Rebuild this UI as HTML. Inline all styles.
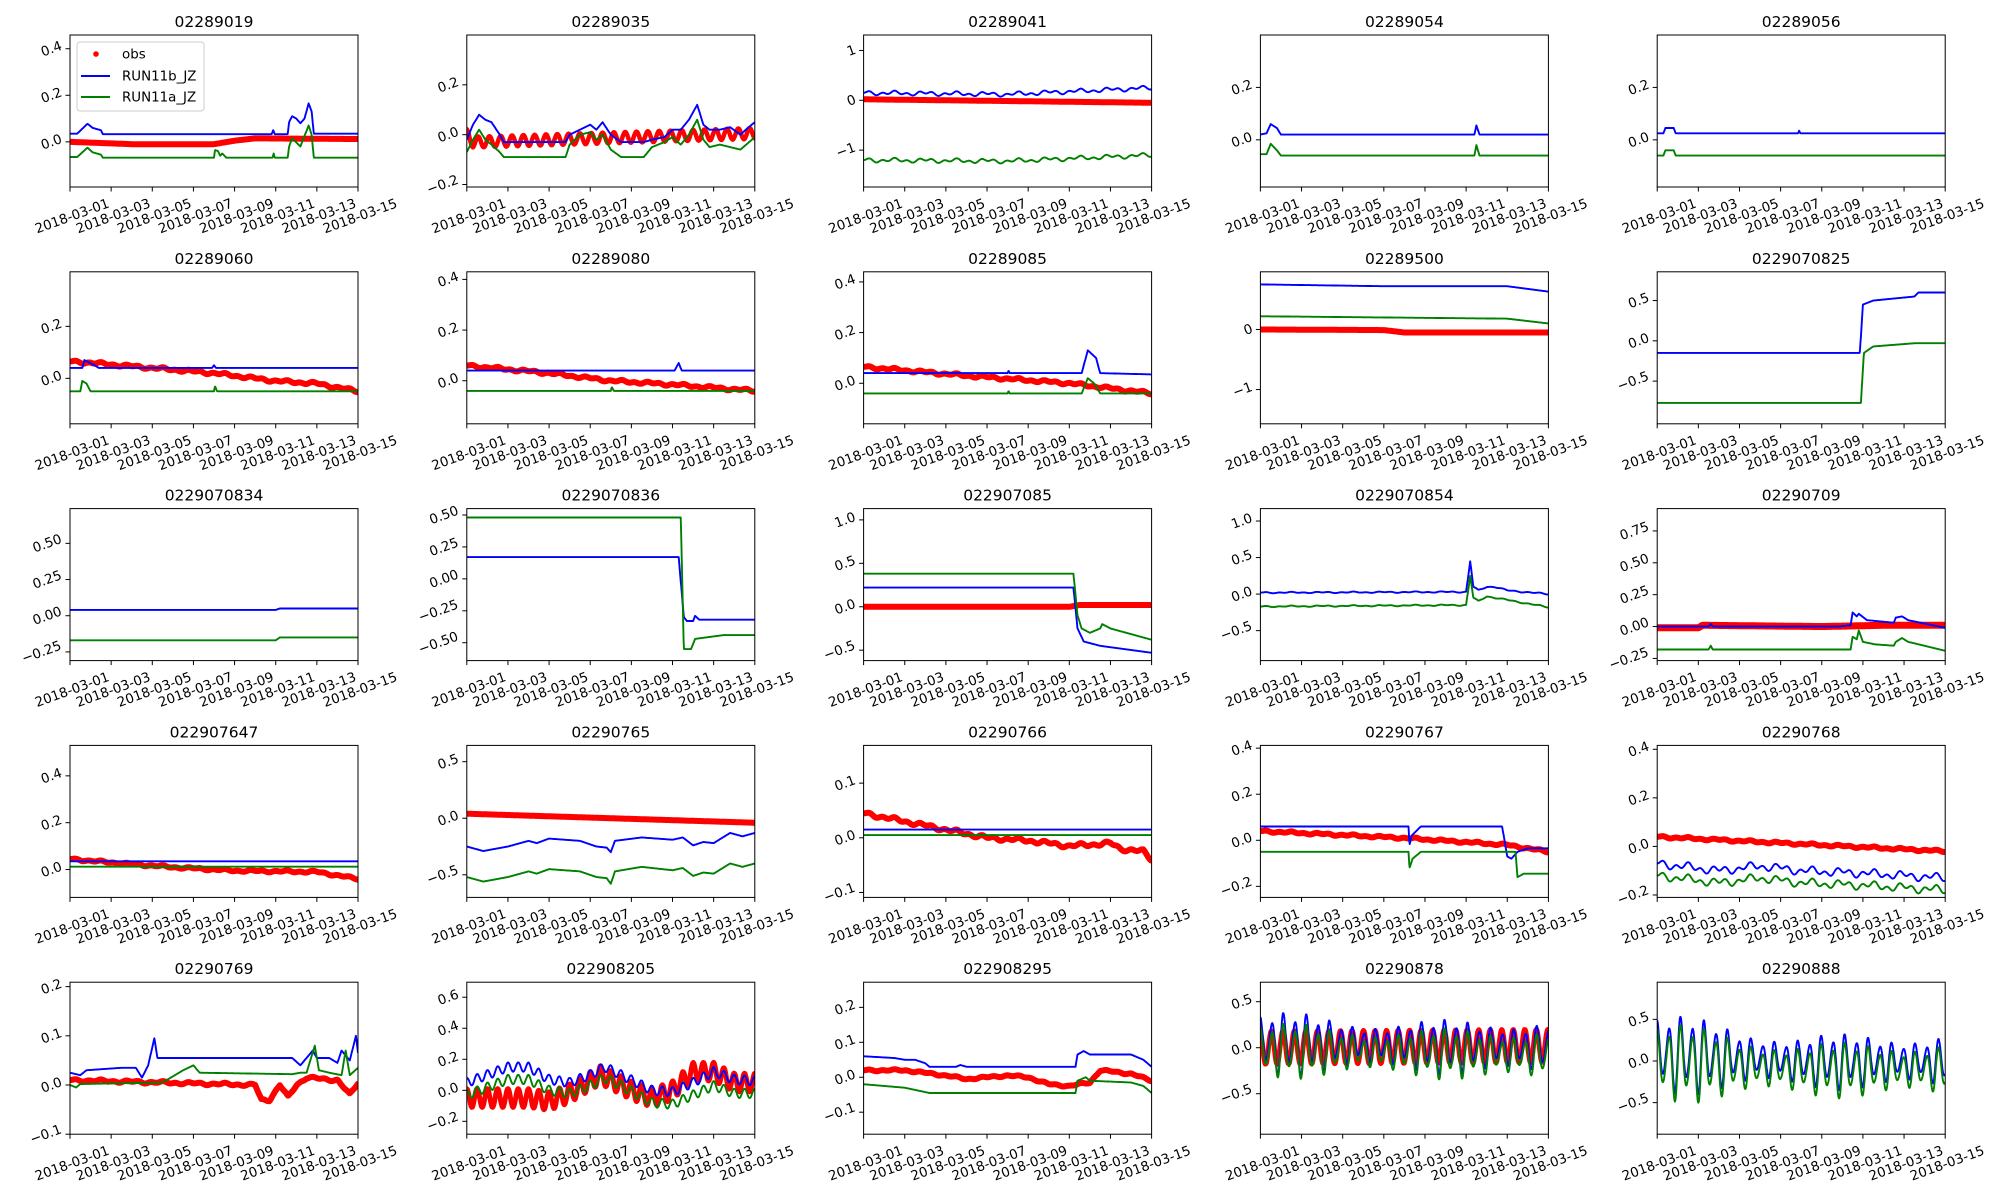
<!DOCTYPE html>
<html><head><meta charset="utf-8">
<style>html,body{margin:0;padding:0;background:#fff;}svg{display:block;}</style>
</head><body>
<svg id="s" xmlns="http://www.w3.org/2000/svg" width="2000" height="1200" viewBox="0 0 2000 1200" font-family="DejaVu Sans, Liberation Sans, sans-serif"></svg>
<script>
const S=document.getElementById('s');
let out='';
const W=288,H=152;
function lerp(pts,t){if(t<=pts[0][0])return pts[0][1];for(let i=1;i<pts.length;i++){if(t<=pts[i][0]){const a=pts[i-1],b=pts[i];return b[0]==a[0]?b[1]:a[1]+(b[1]-a[1])*(t-a[0])/(b[0]-a[0]);}}return pts[pts.length-1][1];}
function flat(v){return [[0,v],[14,v]];}
function ser(base,opt){opt=opt||{};return function(t){let v=lerp(base,t);if(opt.amp){const a=typeof opt.amp=='number'?opt.amp:lerp(opt.amp,t);v+=a*Math.cos(2*Math.PI*t/opt.per+(opt.ph||0))*(opt.mix?(0.75+0.25*Math.cos(2*Math.PI*t/(opt.per*2)+1))*(0.8+0.2*Math.sin(t*0.9)):1);}if(opt.wig)v+=opt.wig*Math.sin(t*7.3)*Math.sin(t*3.1);return v;};}
const P=[
{t:'02289019',y0:-0.194,y1:0.459,tk:[0,0.2,0.4],f:1,legend:1,
 r:ser([[0,0],[3,-0.01],[7,-0.01],[8,0.005],[9,0.015],[14,0.012]]),
 b:ser([[0,.035],[0.35,.035],[0.85,.078],[1.1,.06],[1.5,.05],[1.6,.033],[9.8,.033],[9.88,.05],[9.95,.033],[10.58,.033],[10.65,.085],[10.8,.11],[11.0,.1],[11.2,.08],[11.4,.1],[11.6,.165],[11.75,.13],[11.85,.035],[14,.035]]),
 g:ser([[0,-.065],[0.35,-.065],[0.85,-.025],[1.1,-.045],[1.5,-.055],[1.6,-.068],[7.0,-.068],[7.05,-.035],[7.2,-.04],[7.3,-.06],[7.4,-.05],[7.6,-.068],[9.85,-.068],[9.9,-.05],[9.95,-.068],[10.58,-.068],[10.65,-.02],[10.8,.015],[11.2,-.02],[11.6,.07],[11.75,.03],[11.85,-.068],[14,-.068]])},
{t:'02289035',y0:-0.21,y1:0.40,tk:[-0.2,0,0.2],f:1,
 r:ser([[0,0],[0.3,-0.03],[14,0.005]],{amp:0.022,per:0.55}),rw:4.5,
 b:ser([[0,-0.02],[0.3,0.04],[0.6,0.08],[0.9,0.06],[1.2,0.05],[1.6,0.0],[1.8,-0.03],[4.8,-0.03],[5.0,0.0],[5.5,0.02],[6.0,0.04],[6.3,0.02],[6.6,0.05],[7.0,0.0],[7.5,-0.03],[8.6,-0.03],[9.0,-0.02],[9.6,-0.01],[10.0,0.02],[10.4,0.02],[10.8,0.06],[11.2,0.12],[11.5,0.04],[11.8,0.02],[12.3,0.02],[12.8,0.03],[13.3,0.0],[13.7,0.03],[14,0.05]]),
 g:ser([[0,-0.07],[0.3,-0.02],[0.6,0.02],[0.9,-0.02],[1.2,-0.04],[1.6,-0.07],[1.8,-0.09],[4.8,-0.09],[5.0,-0.04],[5.5,0.0],[6.0,0.01],[6.3,-0.02],[6.6,0.0],[7.0,-0.06],[7.5,-0.09],[8.6,-0.09],[9.0,-0.05],[9.6,-0.03],[10.0,-0.01],[10.4,-0.04],[10.8,0.0],[11.2,0.06],[11.5,-0.02],[11.8,-0.05],[12.3,-0.04],[12.8,-0.05],[13.3,-0.06],[14,-0.01]])},
{t:'02289041',y0:-1.74,y1:1.31,tk:[-1,0,1],f:0,
 r:ser([[0,0.02],[14,-0.05]]),b:ser([[0,0.15],[7,0.12],[14,0.25]],{wig:0.05}),g:ser([[0,-1.2],[7,-1.22],[14,-1.1]],{wig:0.05})},
{t:'02289054',y0:-0.18,y1:0.40,tk:[0,0.2],f:1,
 b:ser([[0,.02],[0.3,.025],[0.5,.06],[0.8,.045],[1.0,.02],[10.4,.02],[10.5,.055],[10.65,.02],[14,.02]]),
 g:ser([[0,-.055],[0.3,-.055],[0.5,-.015],[0.8,-.04],[1.0,-.06],[10.4,-.06],[10.5,-.02],[10.65,-.06],[14,-.06]])},
{t:'02289056',y0:-0.18,y1:0.40,tk:[0,0.2],f:1,
 b:ser([[0,.025],[0.3,.025],[0.4,.045],[0.8,.045],[0.9,.025],[6.85,.025],[6.9,.035],[6.95,.025],[14,.025]]),
 g:ser([[0,-.06],[0.3,-.06],[0.4,-.04],[0.8,-.04],[0.9,-.06],[14,-.06]])},
{t:'02289060',y0:-0.175,y1:0.41,tk:[0,0.2],f:1,
 r:ser([[0,.065],[1,.06],[4,.04],[7,.02],[10,-.01],[12,-.02],[14,-.05]],{wig:0.006}),
 b:ser([[0,.04],[0.6,.04],[0.7,.07],[1.2,.05],[1.4,.04],[6.9,.04],[7,.05],[7.1,.04],[14,.04]]),
 g:ser([[0,-.05],[0.5,-.05],[0.6,-.01],[0.8,-.02],[1.0,-.05],[7.0,-.05],[7.05,-.03],[7.15,-.05],[14,-.05]])},
{t:'02289080',y0:-0.17,y1:0.43,tk:[0,0.2,0.4],f:1,
 r:ser([[0,.06],[4,.03],[7,0],[10,-.015],[14,-.04]],{wig:0.006}),
 b:ser([[0,.04],[10.1,.04],[10.3,.07],[10.45,.04],[14,.04]]),
 g:ser([[0,-.04],[7,-.04],[7.05,-.025],[7.15,-.04],[14,-.04]])},
{t:'02289085',y0:-0.16,y1:0.44,tk:[0,0.2,0.4],f:1,
 r:ser([[0,.065],[5,.03],[10,0],[14,-.04]],{wig:0.006}),
 b:ser([[0,.04],[7,.04],[7.05,.05],[7.1,.04],[10.6,.04],[10.9,.13],[11.3,.1],[11.5,.04],[14,.035]]),
 g:ser([[0,-.04],[7,-.04],[7.05,-.03],[7.1,-.04],[10.6,-.04],[10.9,.02],[11.2,.0],[11.5,-.04],[14,-.04]])},
{t:'02289500',y0:-1.57,y1:0.96,tk:[-1,0],f:0,
 r:ser([[0,0],[6,-0.01],[7,-0.05],[14,-0.05]]),b:ser([[0,.75],[6,.72],[12,.72],[14,.63]]),g:ser([[0,.22],[6,.2],[12,.18],[14,.1]])},
{t:'0229070825',y0:-1.03,y1:0.857,tk:[-0.5,0,0.5],f:1,
 b:ser([[0,-.15],[9.85,-.15],[10.0,0.45],[10.5,0.5],[12.5,.55],[12.7,.6],[14,.6]]),
 g:ser([[0,-.77],[9.9,-.77],[10.05,-0.15],[10.5,-0.07],[12.5,-.03],[14,-.03]])},
{t:'0229070834',y0:-0.31,y1:0.74,tk:[-0.25,0,0.25,0.5],f:2,
 b:ser([[0,0.04],[10,0.04],[10.2,0.05],[14,0.05]]),g:ser([[0,-.17],[10,-.17],[10.2,-.15],[14,-.15]])},
{t:'0229070836',y0:-0.64,y1:0.55,tk:[-0.5,-0.25,0,0.25,0.5],f:2,
 g:ser([[0,0.48],[10.4,0.48],[10.55,-0.55],[10.9,-0.55],[11.1,-.47],[12.5,-.44],[14,-.44]]),
 b:ser([[0,.17],[10.3,.17],[10.55,-.3],[10.7,-.33],[11,-.33],[11.1,-.29],[11.3,-.32],[14,-.32]])},
{t:'022907085',y0:-0.62,y1:1.13,tk:[-0.5,0,0.5,1.0],f:1,
 r:ser([[0,0],[10,0],[10.5,0.02],[14,0.02]]),
 g:ser([[0,.38],[10.2,.38],[10.4,-0.1],[10.6,-0.25],[11,-0.3],[11.5,-0.25],[11.6,-0.2],[12,-0.25],[14,-0.38]]),
 b:ser([[0,.22],[10.2,.22],[10.4,-0.25],[10.7,-0.4],[11.5,-0.45],[14,-0.53]])},
{t:'0229070854',y0:-0.91,y1:1.17,tk:[-0.5,0,0.5,1.0],f:1,
 b:ser([[0,0.02],[10,0.03],[10.2,0.45],[10.35,0.1],[10.6,0.05],[11,0.1],[11.4,0.1],[12,0.05],[14,0.0]],{wig:0.01}),
 g:ser([[0,-0.17],[10,-0.15],[10.2,0.25],[10.35,-0.05],[10.6,-0.1],[11,-0.03],[11.4,-0.05],[14,-0.18]],{wig:0.01})},
{t:'02290709',y0:-0.267,y1:0.925,tk:[-0.25,0,0.25,0.5,0.75],f:2,
 r:ser([[0,-0.01],[2,-0.01],[2.2,0.01],[8,0.0],[11,0.01],[14,0.01]]),rw:7,
 b:ser([[0,0],[2.5,0],[2.6,0.02],[2.7,0],[8.8,0.0],[9.4,0.01],[9.5,0.11],[9.7,0.08],[9.8,0.1],[10.2,0.05],[11.5,0.03],[11.6,0.07],[11.9,0.08],[12.2,0.05],[14,-0.01]]),
 g:ser([[0,-0.18],[2.5,-0.18],[2.6,-0.15],[2.7,-0.18],[9.4,-0.18],[9.5,-0.08],[9.7,-0.1],[9.8,-0.03],[10,-0.12],[10.6,-0.14],[11.5,-0.15],[11.6,-0.12],[11.9,-0.09],[12.2,-0.12],[14,-0.19]])},
{t:'022907647',y0:-0.119,y1:0.53,tk:[0,0.2,0.4],f:1,
 r:ser([[0,0.045],[2,0.03],[5,0.01],[8,-0.005],[12,-0.01],[14,-0.04]],{wig:0.005}),b:ser(flat(0.035)),g:ser(flat(0.012))},
{t:'02290765',y0:-0.70,y1:0.644,tk:[-0.5,0,0.5],f:1,
 r:ser([[0,0.04],[14,-0.04]]),
 b:ser([[0,-0.25],[0.8,-0.29],[2,-0.25],[3,-0.2],[3.4,-0.22],[4,-0.18],[5.5,-0.2],[6.3,-0.25],[6.8,-0.26],[7.0,-0.3],[7.2,-0.2],[8.5,-0.17],[10,-0.19],[10.5,-0.17],[11,-0.24],[11.5,-0.21],[12,-0.22],[12.8,-0.13],[13.4,-0.16],[14,-0.13]]),
 g:ser([[0,-0.52],[0.8,-0.56],[2,-0.52],[3,-0.47],[3.4,-0.49],[4,-0.45],[5.5,-0.47],[6.3,-0.52],[6.8,-0.53],[7.0,-0.58],[7.2,-0.47],[8.5,-0.43],[10,-0.46],[10.5,-0.44],[11,-0.51],[11.5,-0.48],[12,-0.49],[12.8,-0.4],[13.4,-0.43],[14,-0.4]])},
{t:'02290766',y0:-0.109,y1:0.169,tk:[-0.1,0,0.1],f:1,
 r:ser([[0,0.045],[2,0.03],[4,0.015],[6,0.0],[8,-0.005],[10,-0.015],[12,-0.01],[12.5,-0.02],[13.6,-0.025],[14,-0.04]],{wig:0.004}),b:ser(flat(0.015)),g:ser(flat(0.005))},
{t:'02290767',y0:-0.248,y1:0.412,tk:[-0.2,0,0.2,0.4],f:1,
 r:ser([[0,0.04],[7,0.01],[12,-0.02],[14,-0.05]],{wig:0.005}),
 b:ser([[0,0.06],[7.2,0.06],[7.25,-0.02],[7.35,0.02],[7.8,0.06],[11.75,0.06],[12.0,-0.07],[12.2,-0.08],[12.5,-0.05],[13,-0.035],[14,-0.035]]),
 g:ser([[0,-0.05],[7.2,-0.05],[7.25,-0.12],[7.4,-0.08],[7.8,-0.05],[12.4,-0.05],[12.5,-0.16],[12.8,-0.145],[14,-0.145]])},
{t:'02290768',y0:-0.21,y1:0.416,tk:[-0.2,0,0.2,0.4],f:1,
 r:ser([[0,0.04],[14,-0.02]],{wig:0.005}),
 b:ser([[0,-0.07],[3,-0.1],[5,-0.08],[7,-0.1],[10,-0.11],[12,-0.12],[14,-0.13]],{wig:0.02}),
 g:ser([[0,-0.12],[3,-0.15],[5,-0.13],[7,-0.15],[10,-0.16],[12,-0.17],[14,-0.18]],{wig:0.02})},
{t:'02290769',y0:-0.1,y1:0.209,tk:[-0.1,0,0.1,0.2],f:1,
 r:ser([[0,0.01],[9,0],[9.3,-0.03],[9.7,-0.03],[10.2,0.0],[10.6,-0.025],[11,-0.0],[11.5,0.015],[13,0.01],[13.6,-0.02],[14,0.005]],{wig:0.003}),
 b:ser([[0,.025],[0.5,.02],[0.8,.03],[2.5,.035],[3.2,.035],[3.5,.015],[3.8,.04],[4.1,.095],[4.25,.055],[4.5,.055],[10.8,.055],[11.2,.04],[11.8,.07],[12.0,.055],[12.6,.055],[13.0,.045],[13.2,.07],[13.5,.055],[13.6,.05],[13.9,.1],[14,.065]]),
 g:ser([[0,0],[0.3,-0.005],[0.5,0.002],[4.5,0.005],[5.5,0.03],[6,0.04],[6.3,0.025],[10.8,0.022],[11.2,0.025],[11.5,0.025],[11.9,0.08],[12.1,0.03],[12.6,0.025],[13.2,0.02],[13.4,0.07],[13.6,0.02],[14,0.035]])},
{t:'022908205',y0:-0.283,y1:0.697,tk:[-0.2,0,0.2,0.4,0.6],f:1,
 r:ser([[0,-0.05],[3,-0.05],[4,-0.07],[5,-0.02],[6.5,0.1],[8,0.0],[9,-0.05],[10,0.0],[11,0.12],[12,0.12],[13,0.05],[14,0.05]],{amp:0.06,per:0.5}),rw:5,
 b:ser([[0,0.05],[2,0.15],[3,0.15],[4,0.07],[5,0.05],[6,0.1],[6.7,0.15],[7.5,0.1],[9,0.0],[10,-0.01],[11,0.05],[12,0.12],[13,0.07],[14,0.06]],{amp:0.03,per:0.5}),
 g:ser([[0,-0.03],[2,0.07],[3,0.07],[4,0.0],[5,-0.02],[6,0.03],[6.7,0.08],[7.5,0.03],[9,-0.08],[10,-0.09],[11,-0.03],[12,0.03],[13,-0.02],[14,-0.02]],{amp:0.03,per:0.5})},
{t:'022908295',y0:-0.163,y1:0.272,tk:[-0.1,0,0.1,0.2],f:1,
 r:ser([[0,0.02],[2,0.02],[4,0.005],[5,-0.005],[7,0.005],[8,0.0],[9,-0.02],[10,-0.025],[11,-0.015],[11.5,0.02],[13,0.01],[14,-0.01]],{wig:0.003}),
 b:ser([[0,.06],[1.5,.055],[2,.05],[2.5,.05],[3,.04],[3.2,.03],[4.5,.03],[4.7,.035],[5,.03],[10.3,.03],[10.4,.065],[10.7,.075],[11,.065],[13,.065],[13.6,.05],[14,.03]]),
 g:ser([[0,-.02],[2,-.03],[3.2,-.045],[10.3,-.045],[10.4,-.01],[10.8,0],[11,-.01],[13,-.015],[13.6,-.025],[14,-.045]])},
{t:'02290878',y0:-0.94,y1:0.712,tk:[-0.5,0,0.5],f:1,
 r:ser([[0,0],[14,0.02]],{amp:0.18,per:0.56,ph:0.3}),rw:5,
 b:ser([[0,0.05],[14,0.0]],{amp:[[0,0.4],[7,0.3],[14,0.38]],per:0.56,mix:1}),
 g:ser([[0,-0.02],[14,-0.08]],{amp:[[0,0.34],[7,0.28],[14,0.36]],per:0.56,mix:1})},
{t:'02290888',y0:-0.879,y1:0.946,tk:[-0.5,0,0.5],f:1,
 b:ser([[0,0.1],[7,0.0],[14,0.0]],{amp:[[0,0.55],[7,0.35],[14,0.4]],per:0.57,mix:1}),
 g:ser([[0,0.0],[7,-0.1],[14,-0.1]],{amp:[[0,0.55],[7,0.35],[14,0.4]],per:0.57,mix:1})}
];
function fmt(v,f){let s=Math.abs(v).toFixed(f);return (v<-1e-9?'\u2212':'')+s;}
function tw(s){let w=0;for(const c of s){w+=c=='.'?4.3:(c=='\u2212'?11.2:(c=='-'?4.8:8.5));}return w;}
const days=['01','03','05','07','09','11','13','15'];
P.forEach((p,i)=>{
 const c=i%5,r=Math.floor(i/5);
 const L=70+396.8*c,T=35+236.8*r;
 const sx=t=>L+t/14*W, sy=v=>T+H-(v-p.y0)/(p.y1-p.y0)*H;
 out+=`<clipPath id="c${i}"><rect x="${L}" y="${T}" width="${W}" height="${H}"/></clipPath>`;
 out+=`<text x="${L+W/2}" y="${T-8}" font-size="15.5" text-anchor="middle">${p.t}</text>`;
 out+=`<g clip-path="url(#c${i})">`;
 const line=(fn,step)=>{let a=[];for(let t=0;t<=14.0001;t+=step)a.push(sx(t).toFixed(1)+','+sy(fn(t)).toFixed(1));return a.join(' ');};
 if(p.r)out+=`<polyline points="${line(p.r,0.03)}" fill="none" stroke="#ff0000" stroke-width="${p.rw||6}" stroke-linejoin="round" stroke-linecap="round"/>`;
 if(p.b)out+=`<polyline points="${line(p.b,0.02)}" fill="none" stroke="#0000ff" stroke-width="1.9" stroke-linejoin="round"/>`;
 if(p.g)out+=`<polyline points="${line(p.g,0.02)}" fill="none" stroke="#008000" stroke-width="1.9" stroke-linejoin="round"/>`;
 out+='</g>';
 out+=`<rect x="${L}" y="${T}" width="${W}" height="${H}" fill="none" stroke="#000" stroke-width="1"/>`;
 for(let k=0;k<8;k++){const x=L+k*W/7;out+=`<line x1="${x}" y1="${T+H}" x2="${x}" y2="${T+H+4.5}" stroke="#000"/>`;
  const cx=x+2,cy=T+H+29;out+=`<text x="${cx}" y="${cy+4.5}" font-size="13.4" text-anchor="middle" transform="rotate(-20 ${cx} ${cy})">2018-03-${days[k]}</text>`;}
 p.tk.forEach(v=>{const y=sy(v);out+=`<line x1="${L-4.5}" y1="${y}" x2="${L}" y2="${y}" stroke="#000"/>`;
  const s=fmt(v,p.f);const w=tw(s);const cx=L-8-w/2,cy=y;out+=`<text x="${cx}" y="${cy+4.5}" font-size="13.4" text-anchor="middle" transform="rotate(-20 ${cx} ${cy})">${s}</text>`;});
 if(p.legend){
  out+=`<rect x="77" y="42" width="127" height="69" rx="3" fill="#fff" fill-opacity="0.8" stroke="#ccc"/>`;
  out+=`<circle cx="96" cy="54" r="2.8" fill="#ff0000"/><text x="122" y="58.5" font-size="13.4">obs</text>`;
  out+=`<line x1="81" y1="76" x2="110" y2="76" stroke="#0000ff" stroke-width="1.9"/><text x="122" y="80.5" font-size="13.4">RUN11b_JZ</text>`;
  out+=`<line x1="81" y1="97" x2="110" y2="97" stroke="#008000" stroke-width="1.9"/><text x="122" y="101.5" font-size="13.4">RUN11a_JZ</text>`;
 }
});
S.innerHTML=out;
</script>
</body></html>
